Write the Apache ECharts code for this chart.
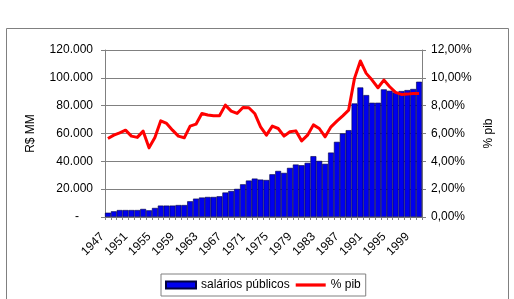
<!DOCTYPE html>
<html>
<head>
<meta charset="utf-8">
<script src="https://cdn.jsdelivr.net/npm/echarts@6/dist/echarts.min.js"></script>
<style>
html,body{margin:0;padding:0;background:#fff;}
#c{width:514px;height:299px;}
</style>
</head>
<body>
<div id="c"></div>
<script>
var years = [];
for (var y = 1947; y <= 2000; y++) years.push(String(y));

var salarios = [
  3100, 4100, 5000, 5000, 5000, 5000, 5800, 4800, 6500, 8200,
  8200, 8200, 8600, 8600, 11300, 13200, 14000, 14400, 14400, 14900,
  17600, 18700, 20200, 23500, 26200, 27600, 26900, 26600, 30700, 33100,
  31700, 35300, 37700, 37200, 38900, 43700, 40300, 38200, 46300, 54000,
  60000, 62400, 81600, 93100, 87600, 82100, 82100, 91700, 90700, 89500,
  90500, 91200, 92000, 97200
];

var pctPib = [
  5.64, 5.88, 6.05, 6.24, 5.81, 5.72, 6.17, 4.97, 5.72, 6.91,
  6.72, 6.24, 5.81, 5.69, 6.53, 6.67, 7.44, 7.33, 7.27, 7.27,
  8.04, 7.61, 7.44, 7.87, 7.85, 7.44, 6.48, 5.88, 6.53, 6.36,
  5.81, 6.12, 6.19, 5.47, 5.88, 6.62, 6.36, 5.76, 6.48, 6.89,
  7.27, 7.68, 9.96, 11.21, 10.32, 9.84, 9.29, 9.84, 9.36, 8.96,
  8.81, 8.83, 8.88, 8.88
];

var seriesNames = ['salários públicos', '% pib'];
var axisNames = ['R$ MM', '% pib'];

var FONT = 'Arial, "Liberation Sans", sans-serif';
var GRAY = '#808080';

function fmtLeft(v) {
  if (v === 0) return '{z|-}';
  return String(v).replace(/\B(?=(\d{3})+(?!\d))/g, '.');
}
function fmtRight(v) {
  return v.toFixed(2).replace('.', ',') + '%';
}

var chart = echarts.init(document.getElementById('c'), null, {renderer: 'canvas'});
chart.setOption({
  animation: false,
  backgroundColor: '#fff',
  textStyle: {fontFamily: FONT},
  graphic: [{
    type: 'rect',
    shape: {x: 6.5, y: 28.5, width: 502, height: 300},
    style: {fill: 'none', stroke: GRAY, lineWidth: 1},
    z: -1
  }],
  grid: {left: 105, right: 92, top: 50, bottom: 82, containLabel: false},
  legend: {
    left: 161, top: 274,
    padding: [5, 5, 5, 4],
    borderColor: GRAY, borderWidth: 1,
    itemWidth: 30, itemHeight: 7, itemGap: 6,
    textStyle: {fontSize: 12, color: '#000', fontFamily: FONT},
    data: [
      {name: seriesNames[0], icon: 'rect'},
      {name: seriesNames[1], icon: 'path://M0,0H30V3.2H0Z', itemStyle: {color: '#ff0000'}}
    ]
  },
  xAxis: {
    type: 'category',
    data: years,
    boundaryGap: true,
    axisLine: {lineStyle: {color: GRAY, width: 1}},
    axisTick: {show: true, interval: 0, length: 3, lineStyle: {color: GRAY}},
    axisLabel: {
      interval: 3, rotate: 45, fontSize: 12, color: '#000', margin: 12, fontFamily: FONT,
      formatter: function (v) { return '{y|' + v + '}'; },
      rich: {y: {fontSize: 12, color: '#000', fontFamily: FONT, padding: [0, 8, 0, 0]}}
    },
    splitLine: {show: false}
  },
  yAxis: [{
    type: 'value',
    min: 0, max: 120000, interval: 20000,
    name: axisNames[0], nameLocation: 'middle', nameGap: 68, nameRotate: 90,
    nameTextStyle: {fontSize: 12, color: '#000', fontFamily: FONT},
    axisLine: {show: true, lineStyle: {color: GRAY}},
    axisTick: {show: true, length: 4, lineStyle: {color: GRAY}},
    axisLabel: {
      formatter: fmtLeft, fontSize: 12, color: '#000', margin: 12, fontFamily: FONT,
      rich: {z: {fontSize: 12, color: '#000', padding: [0, 14, 0, 0]}}
    },
    splitLine: {show: true, lineStyle: {color: GRAY, width: 1}}
  }, {
    type: 'value',
    min: 0, max: 12, interval: 2,
    name: axisNames[1], nameLocation: 'middle', nameGap: 56, nameRotate: 90,
    nameTextStyle: {fontSize: 12, color: '#000', fontFamily: FONT},
    axisLine: {show: true, lineStyle: {color: GRAY}},
    axisTick: {show: true, length: 4, lineStyle: {color: GRAY}},
    axisLabel: {formatter: fmtRight, fontSize: 12, color: '#000', margin: 9, fontFamily: FONT},
    splitLine: {show: false}
  }],
  series: [{
    name: seriesNames[0],
    type: 'bar',
    data: salarios,
    barCategoryGap: '0%',
    itemStyle: {color: '#0000ee', borderColor: '#000040', borderWidth: 0.6},
    z: 2
  }, {
    name: seriesNames[1],
    type: 'line',
    yAxisIndex: 1,
    data: pctPib,
    symbol: 'none',
    showSymbol: false,
    lineStyle: {color: '#ff0000', width: 3, join: 'round'},
    itemStyle: {color: '#ff0000'},
    z: 3
  }]
});
</script>
</body>
</html>
